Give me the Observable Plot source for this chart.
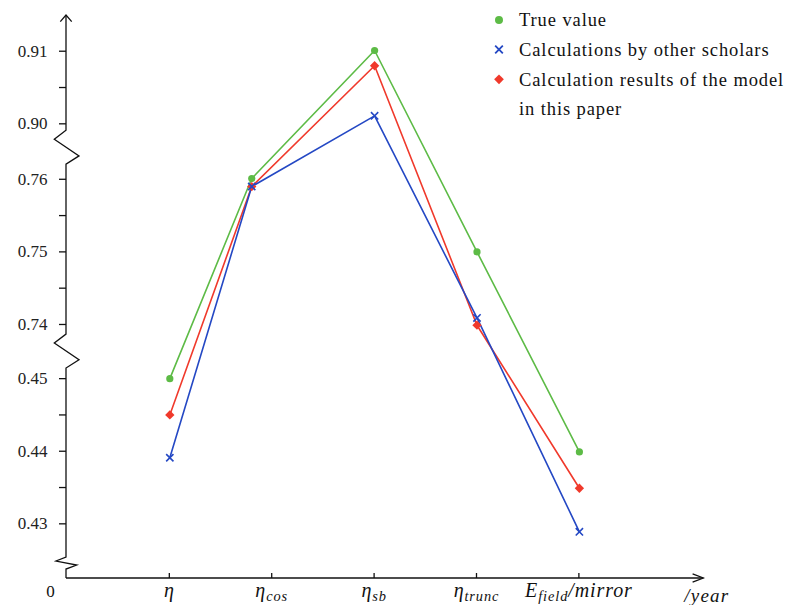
<!DOCTYPE html>
<html><head><meta charset="utf-8">
<script src="https://cdn.jsdelivr.net/npm/d3@7"></script>
<script src="https://cdn.jsdelivr.net/npm/@observablehq/plot@0.6"></script>
<style>body{margin:0;background:#fff}#chart{width:786px;height:605px}</style>
</head><body><div id="chart"></div>
<script>
// ---- data ----
const categories = ["η", "η_cos", "η_sb", "η_trunc", "E_field/mirror"];
const xPositions = [0, 0.8, 2, 3, 4];           // where each point sits along the category axis
const trueValue     = [0.4500, 0.7601, 0.9101, 0.7500, 0.4399];
const otherScholars = [0.4391, 0.7590, 0.9011, 0.7409, 0.4289];
const thisModel     = [0.4450, 0.7590, 0.9080, 0.7399, 0.4349];
const seriesNames = ["True value", "Calculations by other scholars", "Calculation results of the model", "in this paper"];
const yTicks = [0.43, 0.44, 0.45, 0.74, 0.75, 0.76, 0.90, 0.91];
const yMinorTicks = [0.435, 0.445, 0.745, 0.755, 0.905];
const segmentLows  = [0.43, 0.74, 0.90];
const segmentHighs = [0.45, 0.76, 0.91];

// ---- broken-axis mapping (display units: 1 unit = 0.01) ----
const segmentStarts = [0.753, 3.499, 6.263];
function brk(v) {
  let best = 0, bestDist = Infinity;
  for (let k = 0; k < segmentLows.length; k++) {
    const d = v < segmentLows[k] ? segmentLows[k] - v : v > segmentHighs[k] ? v - segmentHighs[k] : 0;
    if (d < bestDist) { bestDist = d; best = k; }
  }
  return segmentStarts[best] + (v - segmentLows[best]) / 0.01;
}

const GREEN = "#5dbb46", BLUE = "#2448c4", RED = "#f0392b";
const SERIF = "'Liberation Serif', 'DejaVu Serif', serif";

function rows(vals) { return vals.map((v, i) => ({x: xPositions[i], y: brk(v)})); }
const gRows = rows(trueValue), bRows = rows(otherScholars), rRows = rows(thisModel);

const tickLabel = new Map(yTicks.map(t => [brk(t), d3.format(".2f")(t)]));

function addMath(sel, label) {
  const m = label.match(/^(.)(?:_([a-z]+))?(.*)$/);
  sel.append("tspan").text(m[1]);
  if (m[2]) sel.append("tspan").attr("font-size", "0.72em").attr("dy", "0.28em").text(m[2]);
  if (m[3]) sel.append("tspan").attr("dy", m[2] ? "-0.2em" : null).text(m[3]);
}

function axesMark(index, scales, values, dims) {
  const {x, y} = scales;
  const g = d3.create("svg:g").attr("fill", "none").attr("stroke", "#111").attr("stroke-width", 1.3);
  const x0 = dims.marginLeft, yB = dims.height - dims.marginBottom, yT = dims.marginTop, xR = dims.width - dims.marginRight;
  const big = [[0, -17], [-11.7, -8], [13, 8.7], [0, 17]];
  const small = [[0, -6], [-10, -2], [10.7, 2], [0, 6]];
  const c1 = y(brk(0.43)) + (yB - y(brk(0.43))) * 0.726;
  const c2 = (y(brk(0.45)) + y(brk(0.74))) / 2;
  const c3 = y(brk(0.90)) + (y(brk(0.76)) - y(brk(0.90))) * 0.43;
  const pts = [[x0, yB]];
  for (const [shape, c] of [[small, c1], [big, c2], [big, c3]]) {
    for (const [dx, dy] of shape.slice().reverse()) pts.push([x0 + dx, c + dy]);
  }
  pts.push([x0, yT]);
  g.append("path").attr("d", d3.line()(pts));
  g.append("path").attr("d", d3.line()([[x0 - 5.7, yT + 6.7], [x0, yT], [x0 + 5.7, yT + 6.7]]));
  g.append("path").attr("d", d3.line()([[x0, yB], [xR, yB]]));
  g.append("path").attr("d", d3.line()([[xR - 10.7, yB - 4.2], [xR, yB], [xR - 10.7, yB + 4.2]]));
  categories.forEach((c, i) => {
    g.append("path").attr("d", d3.line()([[x(i), yB], [x(i), yB - 5]]));
    const t = g.append("text").attr("x", x(i)).attr("y", yB + 18.5).attr("text-anchor", "middle")
      .attr("stroke", "none").attr("fill", "#111").attr("font-family", SERIF).attr("font-style", "italic")
      .attr("font-size", 20).attr("letter-spacing", "0.9px");
    addMath(t, c);
  });
  g.append("text").attr("x", x0 - 15.5).attr("y", yB + 18.5).attr("text-anchor", "middle")
    .attr("stroke", "none").attr("fill", "#111").attr("font-family", SERIF).attr("font-size", 17).text("0");
  g.append("text").attr("x", xR - 19).attr("y", yB + 24).attr("text-anchor", "start").attr("stroke", "none").attr("fill", "#111")
    .attr("font-family", SERIF).attr("font-style", "italic").attr("font-size", 19).attr("letter-spacing", "1.2px").text("/year");
  return g.node();
}

function legendMark(index, scales, values, dims) {
  const g = d3.create("svg:g");
  const mx = dims.width - 287, tx = dims.width - 267;
  const ys = [20, 49.5, 79.3, 108.7];
  const sym = [d3.symbolCircle, d3.symbolTimes, d3.symbolDiamond2];
  const sizes = [50, 40, 60];
  const cols = [GREEN, BLUE, RED];
  for (let i = 0; i < 3; i++) {
    const p = g.append("path").attr("transform", `translate(${mx},${ys[i]})`).attr("d", d3.symbol(sym[i], sizes[i])());
    if (i === 1) p.attr("fill", "none").attr("stroke", cols[i]).attr("stroke-width", 1.8);
    else p.attr("fill", cols[i]);
  }
  seriesNames.forEach((s, i) => {
    g.append("text").attr("x", tx).attr("y", ys[i]).attr("dy", "0.35em").attr("text-anchor", "start")
      .attr("font-family", SERIF).attr("font-size", 18.5).attr("letter-spacing", "0.9px").attr("fill", "#111").text(s);
  });
  return g.node();
}

const chart = Plot.plot({
  width: 786, height: 605,
  marginLeft: 66, marginRight: 82.7, marginTop: 15, marginBottom: 27,
  style: {fontFamily: SERIF, background: "#fff", overflow: "visible"},
  x: {domain: [-1.009, 5.215], axis: null},
  y: {domain: [0, 7.755], axis: null},
  marks: [
    Plot.axisY({ticks: yTicks.map(brk), tickFormat: d => tickLabel.get(d), tickSize: 7, tickPadding: 12,
      fontSize: 17, fontFamily: SERIF, strokeWidth: 1.3, stroke: "#111", fill: "#222", label: null,
      letterSpacing: "1px"}),
    Plot.axisY({ticks: yMinorTicks.map(brk), tickFormat: () => "", tickSize: 7, strokeWidth: 1.3, stroke: "#111", label: null}),
    axesMark,
    Plot.line(gRows, {x: "x", y: "y", stroke: GREEN, strokeWidth: 1.6}),
    Plot.line(rRows, {x: "x", y: "y", stroke: RED, strokeWidth: 1.6}),
    Plot.line(bRows, {x: "x", y: "y", stroke: BLUE, strokeWidth: 1.6}),
    Plot.dot(gRows, {x: "x", y: "y", r: 3.6, fill: GREEN, symbol: "circle"}),
    Plot.dot(rRows, {x: "x", y: "y", r: 4.2, fill: RED, symbol: "diamond2"}),
    Plot.dot(bRows, {x: "x", y: "y", r: 3.4, stroke: BLUE, strokeWidth: 1.6, symbol: "times"}),
    legendMark
  ]
});
document.getElementById("chart").append(chart);
</script>
</body></html>
